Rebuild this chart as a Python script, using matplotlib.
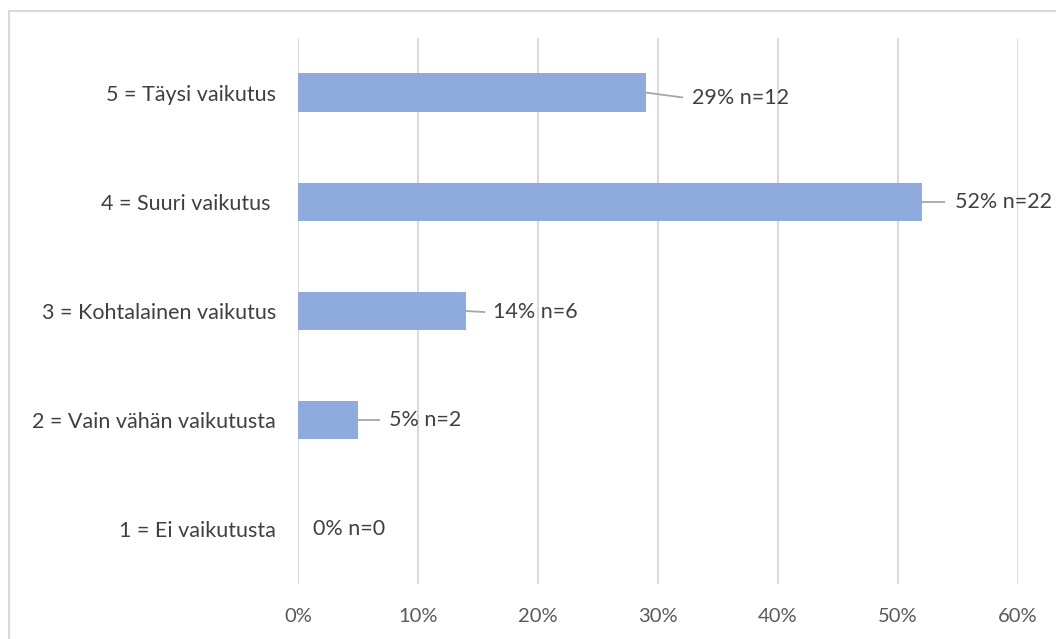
import matplotlib
matplotlib.use("Agg")
import matplotlib.pyplot as plt
from matplotlib.patches import Rectangle

categories = [
    "1 = Ei vaikutusta",
    "2 = Vain vähän vaikutusta",
    "3 = Kohtalainen vaikutus",
    "4 = Suuri vaikutus ",
    "5 = Täysi vaikutus",
]
percent = [0, 5, 14, 52, 29]
counts = [0, 2, 6, 22, 12]
xticks = [0, 10, 20, 30, 40, 50, 60]

# label placement: end of leader line and start of text (in % units), and vertical nudge
leader_end = [None, 6.83, 15.6, 53.9, 32.1]
text_x = [1.25, 7.58, 16.25, 54.75, 32.8]
text_dy = [0.0, 0.0, -0.01, 0.0, -0.045]

plt.rcParams["font.family"] = ["Lato", "DejaVu Sans"]

fig = plt.figure(figsize=(10.56, 6.39), dpi=100)
ax = fig.add_axes([298 / 1056, 55 / 639, 720 / 1056, 546 / 639])

ypos = list(range(len(categories)))
ax.barh(ypos, percent, height=0.35, color="#8FAADC", zorder=3)

for y, p, n, le, tx, dy in zip(ypos, percent, counts, leader_end, text_x, text_dy):
    if le is not None:
        ax.plot([p, le], [y, y + dy], color="#A6A6A6", lw=1.3, zorder=4,
                solid_capstyle="butt")
    ax.text(tx, y + dy, f"{p}% n={n}", va="center", ha="left",
            fontsize=15.5, color="#404040", zorder=5)

ax.set_xlim(0, 60)
ax.set_ylim(-0.5, 4.5)
ax.set_xticks(xticks)
ax.set_xticklabels([f"{t}%" for t in xticks], fontsize=14.5, color="#595959")
ax.set_yticks(ypos)
ax.set_yticklabels(categories, fontsize=15.5, color="#404040")
ax.tick_params(axis="x", length=0, pad=17)
ax.tick_params(axis="y", length=0, pad=16)
ax.grid(axis="x", color="#D9D9D9", lw=1.4, zorder=0)
for s in ax.spines.values():
    s.set_visible(False)

fig.patches.append(Rectangle((9 / 1056, -0.1), 1.2, (639 - 11) / 639 + 0.1,
                             transform=fig.transFigure, fill=False,
                             edgecolor="#D9D9D9", lw=1.5))

fig.savefig("out.png", dpi=100)
